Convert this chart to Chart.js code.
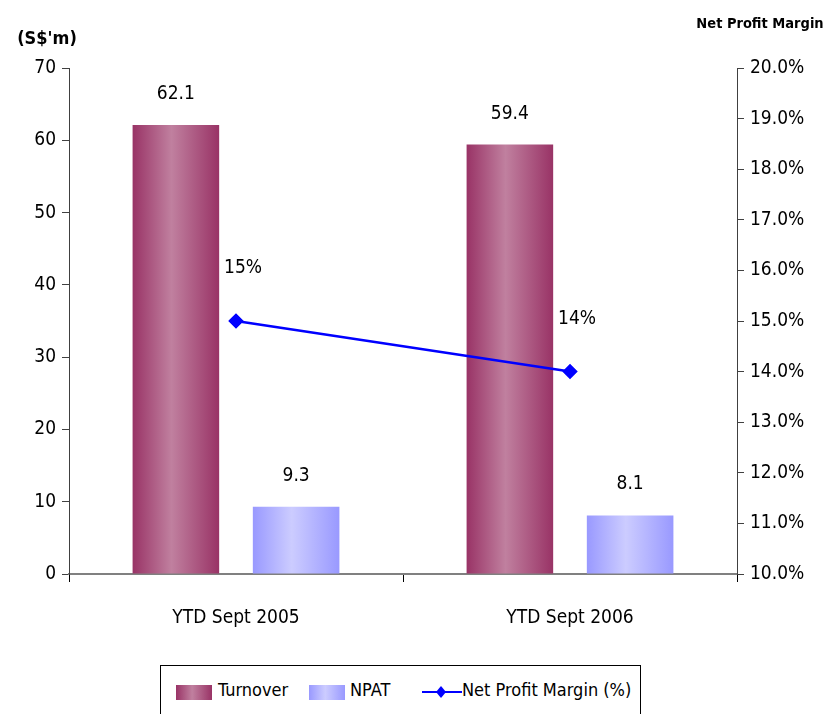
<!DOCTYPE html>
<html>
<head>
<meta charset="utf-8">
<script src="https://cdn.jsdelivr.net/npm/chart.js@4"></script>
<style>
  html, body { margin: 0; padding: 0; background: #fff; }
  #wrap { position: relative; width: 836px; height: 714px; }
  #legend {
    position: absolute; left: 160px; top: 665px; width: 481px; height: 52px;
    border: 1px solid #000; box-sizing: border-box; background: #fff;
    font-family: "DejaVu Sans Condensed", sans-serif;
    font-size: 18px; color: #000;
  }
  #legend .part { position: absolute; top: 12px; line-height: 24px; white-space: nowrap; }
  #legend .sw { position: absolute; top: 19px; width: 36px; height: 15px; }
</style>
</head>
<body>
<div id="wrap">
  <canvas id="chart" width="836" height="714"></canvas>
  <div id="legend">
    <span class="sw" style="left:15px;background:linear-gradient(90deg,#993366,#c0809f 45%,#993366)"></span>
    <span class="part" style="left:57px">Turnover</span>
    <span class="sw" style="left:148px;background:linear-gradient(90deg,#9999ff,#ccccff 45%,#9999ff)"></span>
    <span class="part" style="left:189px">NPAT</span>
    <svg style="position:absolute;left:261px;top:18px" width="40" height="16"><line x1="0" y1="8" x2="40" y2="8" stroke="#0000ff" stroke-width="2"/><polygon points="19,2 24,8 19,14 14,8" fill="#0000ff"/></svg>
    <span class="part" style="left:301px">Net Profit Margin (%)</span>
  </div>
</div>
<script>
const categories = ["YTD Sept 2005", "YTD Sept 2006"];
const turnover = [62.1, 59.4];
const npat = [9.3, 8.1];
const margin = [15, 14];
const marginLabels = ["15%", "14%"];

const FONT = '"DejaVu Sans Condensed", sans-serif';

const gradientStops = {
  0: ["#993366", "#c0809f"],
  1: ["#9999ff", "#ccccff"]
};

// horizontal shading on each bar
const barShading = {
  id: "barShading",
  beforeDatasetsDraw(chart) {
    const ctx = chart.ctx;
    [0, 1].forEach(di => {
      const meta = chart.getDatasetMeta(di);
      meta.data.forEach(bar => {
        const half = bar.width / 2;
        const g = ctx.createLinearGradient(bar.x - half, 0, bar.x + half, 0);
        g.addColorStop(0, gradientStops[di][0]);
        g.addColorStop(0.45, gradientStops[di][1]);
        g.addColorStop(1, gradientStops[di][0]);
        bar.options.backgroundColor = g;
      });
    });
  }
};

// value labels + axis headers
const labelsPlugin = {
  id: "labelsPlugin",
  afterDatasetsDraw(chart) {
    const ctx = chart.ctx;
    ctx.save();
    ctx.fillStyle = "#000";
    ctx.textAlign = "center";
    ctx.textBaseline = "middle";
    ctx.font = "19px " + FONT;
    [[0, turnover], [1, npat]].forEach(([di, vals]) => {
      chart.getDatasetMeta(di).data.forEach((bar, i) => {
        ctx.fillText(vals[i].toFixed(1), bar.x, bar.y - 31);
      });
    });
    chart.getDatasetMeta(2).data.forEach((pt, i) => {
      ctx.fillText(marginLabels[i], pt.x + 7, pt.y - 53);
    });
    ctx.font = "bold 18px " + FONT;
    ctx.fillText("(S$'m)", 47, 39);
    ctx.font = "bold 14.5px " + FONT;
    ctx.fillText("Net Profit Margin", 760, 24);
    ctx.restore();
  }
};

new Chart(document.getElementById("chart"), {
  data: {
    labels: categories,
    datasets: [
      {
        type: "bar", label: "Turnover", data: turnover, yAxisID: "y",
        backgroundColor: () => "#993366", order: 2,
        categoryPercentage: 0.72, barPercentage: 0.72
      },
      {
        type: "bar", label: "NPAT", data: npat, yAxisID: "y",
        backgroundColor: () => "#9999ff", order: 2,
        categoryPercentage: 0.72, barPercentage: 0.72
      },
      {
        type: "line", label: "Net Profit Margin (%)", data: margin, yAxisID: "y1",
        borderColor: "#0000ff", backgroundColor: "#0000ff", borderWidth: 2.5,
        pointStyle: "rectRot", pointRadius: 6, pointHoverRadius: 6, tension: 0, order: 1
      }
    ]
  },
  options: {
    responsive: false,
    animation: false,
    layout: { padding: { left: 0, right: 0, top: 68, bottom: 0 } },
    plugins: { legend: { display: false }, tooltip: { enabled: false } },
    scales: {
      x: {
        offset: true,
        grid: { offset: true, drawOnChartArea: false, drawTicks: true, tickLength: 8, color: "#000", lineWidth: 1 },
        border: { color: "#808080", width: 2 },
        ticks: { color: "#000", font: { family: FONT, size: 19 }, padding: 25 },
        afterFit(scale) { scale.height = 140; }
      },
      y: {
        position: "left", min: 0, max: 70,
        ticks: { stepSize: 10, color: "#000", font: { family: FONT, size: 19 }, padding: 6 },
        grid: { drawOnChartArea: false, tickLength: 7, color: "#404040" },
        border: { color: "#404040", width: 1 },
        afterFit(scale) { scale.width = 69; }
      },
      y1: {
        position: "right", min: 10, max: 20,
        ticks: {
          stepSize: 1, color: "#000", font: { family: FONT, size: 19 }, padding: 6,
          callback: v => v.toFixed(1) + "%"
        },
        grid: { drawOnChartArea: false, tickLength: 7, color: "#404040" },
        border: { color: "#404040", width: 1 },
        afterFit(scale) { scale.width = 99; }
      }
    }
  },
  plugins: [barShading, labelsPlugin]
});
</script>
</body>
</html>
